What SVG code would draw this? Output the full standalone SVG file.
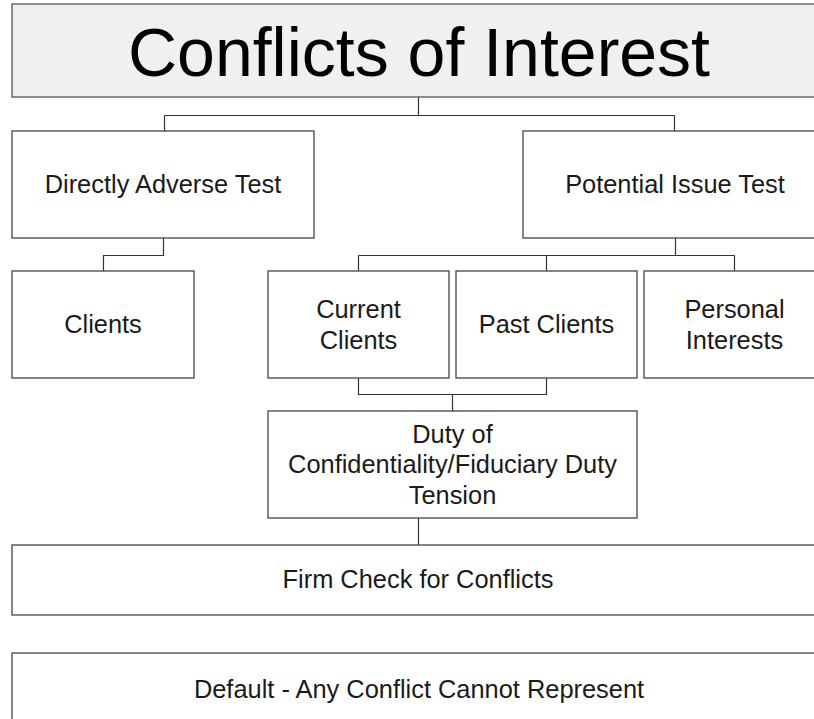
<svg xmlns="http://www.w3.org/2000/svg" width="814" height="719" viewBox="0 0 814 719">
<style>
.box{fill:#fff;stroke:#444;stroke-width:1.3}
.title{fill:#eff0f0;stroke:#555;stroke-width:1.3}
.t{font-family:"Liberation Sans",Arial,sans-serif;font-size:25.4px;fill:#1a1a1a;text-anchor:middle}
.big{font-family:"Liberation Sans",Arial,sans-serif;font-size:68px;fill:#000;text-anchor:middle}
.c{fill:none;stroke:#333;stroke-width:1.2}
</style>
<rect width="814" height="719" fill="#fff"/>
<g id="connectors">
<path class="c" d="M418.5,97 V115.5 M164.5,115.5 H674.5 M164.5,115.5 V131 M674.5,115.5 V131"/>
<path class="c" d="M163.5,238 V255.5 H103.5 V271"/>
<path class="c" d="M675.5,238 V255.5 M358.5,255.5 H734.5 M358.5,255.5 V271 M546.5,255.5 V271 M734.5,255.5 V271"/>
<path class="c" d="M358.5,378 V394.5 H546.5 V378 M452.5,394.5 V411"/>
<path class="c" d="M418.5,518 V545"/>
</g>
<g id="n-title">
<rect class="title" x="12" y="4" width="820" height="93"/>
<text class="big" x="419" y="76">Conflicts of Interest</text>
</g>
<g id="n-directly">
<rect class="box" x="12" y="131" width="302" height="107"/>
<text class="t" x="163" y="193">Directly Adverse Test</text>
</g>
<g id="n-potential">
<rect class="box" x="523" y="131" width="310" height="107"/>
<text class="t" x="675" y="193">Potential Issue Test</text>
</g>
<g id="n-clients">
<rect class="box" x="12" y="271" width="182" height="107"/>
<text class="t" x="103" y="333">Clients</text>
</g>
<g id="n-current">
<rect class="box" x="268" y="271" width="181" height="107"/>
<text class="t" x="358.5" y="318">Current</text>
<text class="t" x="358.5" y="349">Clients</text>
</g>
<g id="n-past">
<rect class="box" x="456" y="271" width="181" height="107"/>
<text class="t" x="546.5" y="333">Past Clients</text>
</g>
<g id="n-personal">
<rect class="box" x="644" y="271" width="190" height="107"/>
<text class="t" x="734.5" y="318">Personal</text>
<text class="t" x="734.5" y="349">Interests</text>
</g>
<g id="n-duty">
<rect class="box" x="268" y="411" width="369" height="107"/>
<text class="t" x="452.5" y="443">Duty of</text>
<text class="t" x="452.5" y="473">Confidentiality/Fiduciary Duty</text>
<text class="t" x="452.5" y="504">Tension</text>
</g>
<g id="n-firm">
<rect class="box" x="12" y="545" width="820" height="70"/>
<text class="t" x="418" y="588">Firm Check for Conflicts</text>
</g>
<g id="n-default">
<rect class="box" x="12" y="653" width="820" height="80"/>
<text class="t" x="419" y="698">Default - Any Conflict Cannot Represent</text>
</g>
</svg>
